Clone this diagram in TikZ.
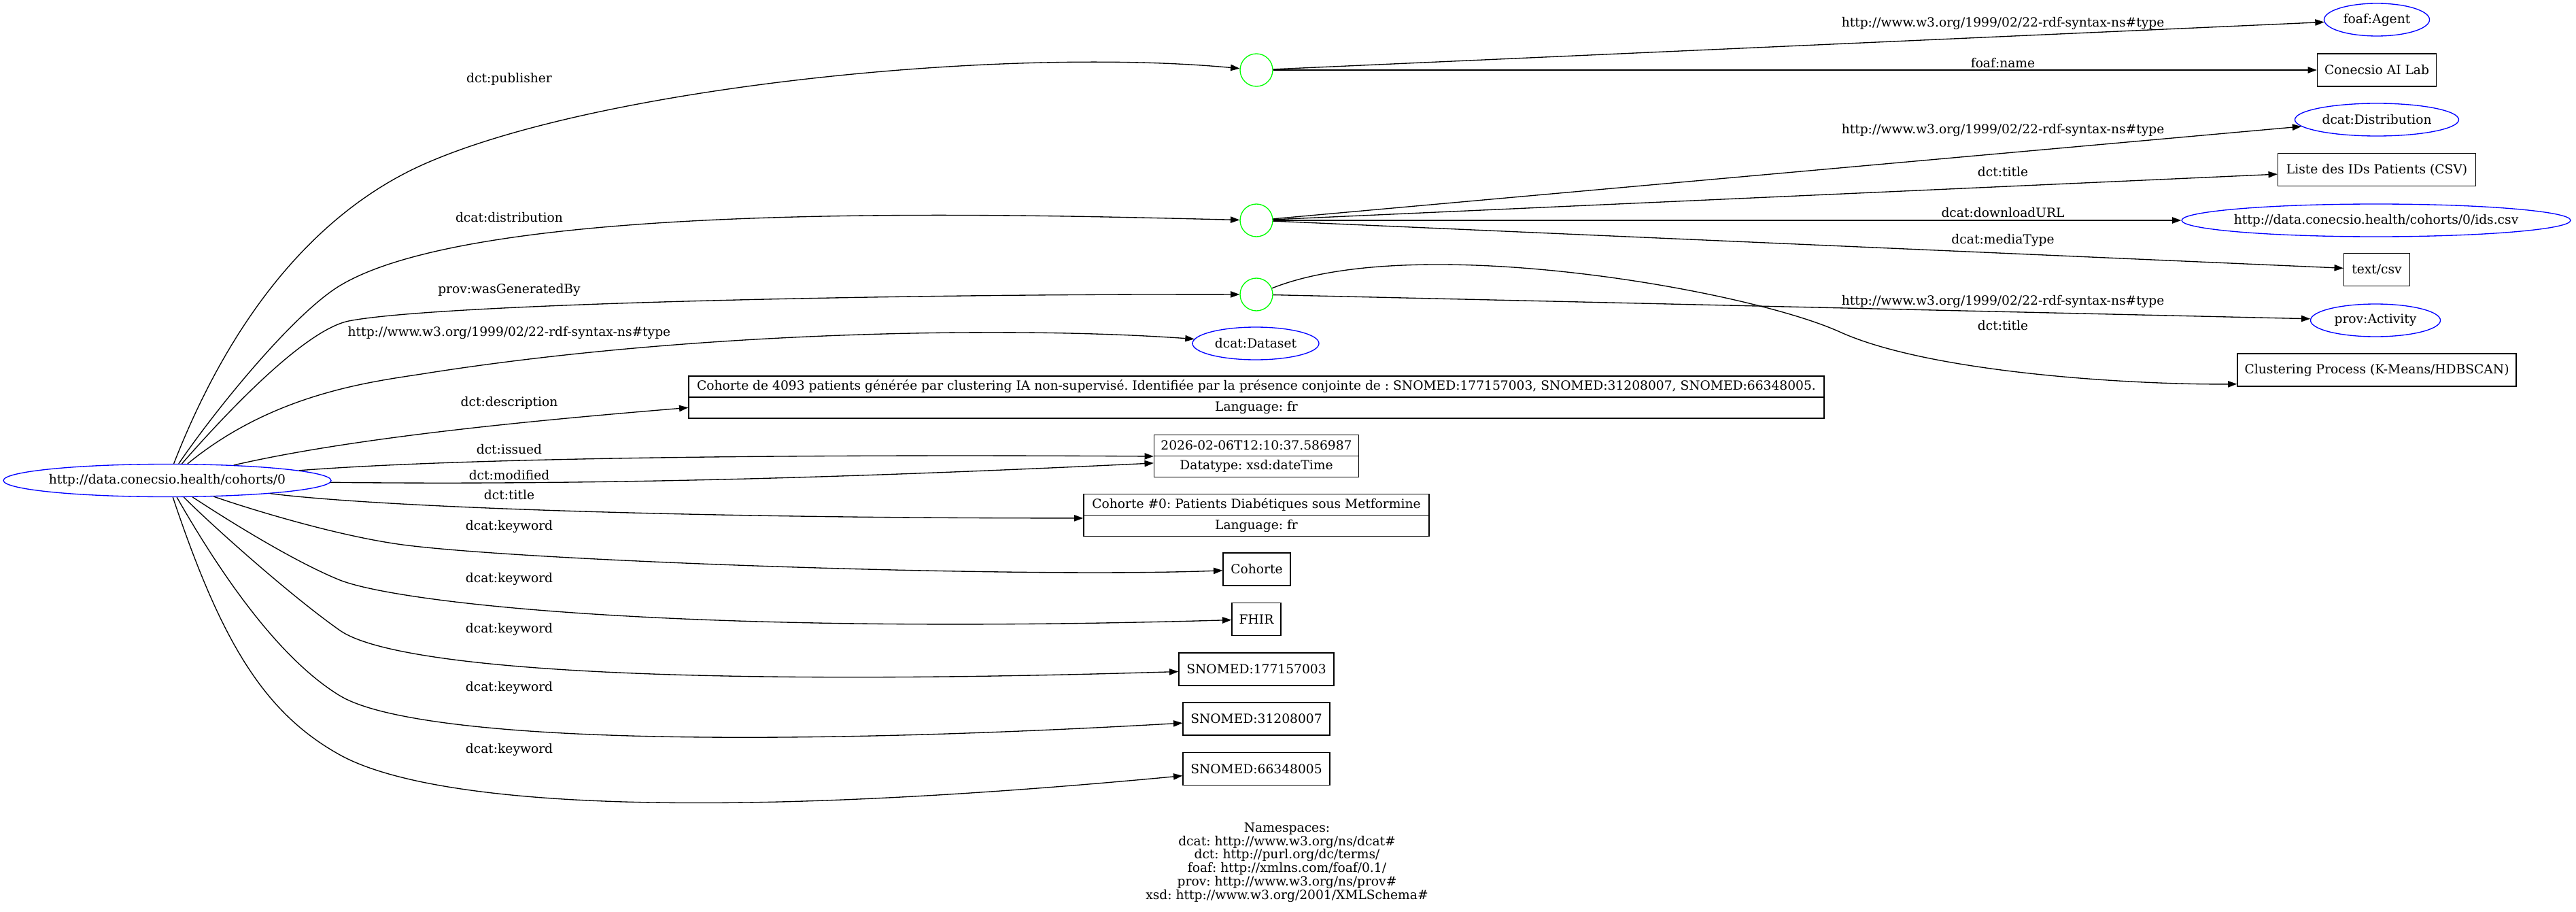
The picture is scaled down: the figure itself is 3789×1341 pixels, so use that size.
\documentclass[tikz,border=0pt]{standalone}
\usepackage{fontspec}
\setmainfont{DejaVu Serif}
\usetikzlibrary{shapes.geometric,arrows.meta,calc}
\frenchspacing
\begin{document}
\begin{tikzpicture}[x=0.75pt,y=-0.75pt,
  every node/.style={font=\fontsize{14pt}{16pt}\selectfont\frenchspacing},
  uri/.style={ellipse,draw=blue,line width=1pt,inner xsep=-10pt,inner ysep=0pt,minimum height=36pt},
  bnode/.style={circle,draw=green,line width=1pt,inner sep=0pt,minimum size=36pt},
  lit/.style={rectangle,draw=black,line width=1pt,inner sep=0pt,minimum height=36pt},
  recrow/.style={rectangle,draw=black,line width=1pt,inner sep=0pt,minimum height=23.25pt},
  elabel/.style={inner sep=0pt},
  edge/.style={draw=black,line width=1pt,-{Triangle[length=10pt,width=7pt]}}
]
\useasboundingbox (0,0) rectangle (3789,1341);

% main subject
\node[uri,minimum width=361.5pt] (main) at (246,706.5) {http://data.conecsio.health/cohorts/0};

% blank nodes
\node[bnode] (b1) at (1848,103) {};
\node[bnode] (b2) at (1848,324) {};
\node[bnode] (b3) at (1848,433) {};

% middle column
\node[uri,minimum width=139.5pt] (dataset) at (1847,505) {dcat:Dataset};
\node[recrow,minimum width=1252.5pt] (desct) at (1848,568.4) {Cohorte de 4093 patients générée par clustering IA non-supervisé. Identifiée par la présence conjointe de : SNOMED:177157003, SNOMED:31208007, SNOMED:66348005.};
\node[recrow,minimum width=1252.5pt] (descb) at (1848,599.4) {Language: fr};
\node[recrow,minimum width=225.75pt] (datet) at (1848,654.8) {2026-02-06T12:10:37.586987};
\node[recrow,minimum width=225.75pt] (dateb) at (1848,685.8) {Datatype: xsd:dateTime};
\node[recrow,minimum width=381pt] (titlet) at (1848,742.2) {Cohorte \#0: Patients Diabétiques sous Metformine};
\node[recrow,minimum width=381pt] (titleb) at (1848,773.2) {Language: fr};
\node[lit,minimum width=74.25pt] (kwa) at (1848.5,837) {Cohorte};
\node[lit,minimum width=54pt] (kwb) at (1848,910.5) {FHIR};
\node[lit,minimum width=171pt] (kwc) at (1848,984) {SNOMED:177157003};
\node[lit,minimum width=162pt] (kwd) at (1848,1057) {SNOMED:31208007};
\node[lit,minimum width=162pt] (kwe) at (1848,1130.5) {SNOMED:66348005};

% right column
\node[uri,minimum width=116.25pt] (agent) at (3496,29) {foaf:Agent};
\node[lit,minimum width=131.25pt] (conecsio) at (3496,103) {Conecsio AI Lab};
\node[uri,minimum width=180.75pt] (dist) at (3496,176) {dcat:Distribution};
\node[lit,minimum width=218.25pt] (liste) at (3496,249.5) {Liste des IDs Patients (CSV)};
\node[uri,minimum width=429pt] (ids) at (3495,324) {http://data.conecsio.health/cohorts/0/ids.csv};
\node[lit,minimum width=72.75pt] (textcsv) at (3496,396.5) {text/csv};
\node[uri,minimum width=143.25pt] (activity) at (3494,471) {prov:Activity};
\node[lit,minimum width=307.5pt] (clust) at (3496,544) {Clustering Process (K-Means/HDBSCAN)};

% edges from main
\draw[edge] (main) .. controls (350,440) and (483,305) .. (620,243) .. controls (875,128) and (1474,68) .. (b1);
\draw[edge] (main) .. controls (318,601) and (432,461) .. (500,420) .. controls (714,291) and (1500,316) .. (b2);
\draw[edge] (main) .. controls (319,623) and (444,486) .. (513,472) .. controls (640,447) and (1300,432) .. (b3);
\draw[edge] (main) .. controls (400,580) and (541,562) .. (620,550) .. controls (1015,487) and (1484,479) .. (dataset);
\draw[edge] (main) .. controls (530,641) and (813,616) .. (descb.west);
\draw[edge] (main) .. controls (700,672) and (1200,668) .. (datet.south west);
\draw[edge] (main) .. controls (900,714) and (1300,700) .. ($(dateb.north west)!0.35!(dateb.south west)$);
\draw[edge] (main) .. controls (550,745) and (1000,762) .. ($(titleb.north west)!0.15!(titleb.south west)$);
\draw[edge] (main) .. controls (366,748) and (501,790) .. (600,802) .. controls (799,826) and (1500,850) .. (kwa);
\draw[edge] (main) .. controls (320,755) and (426,823) .. (500,853) .. controls (584,886) and (1000,935) .. (kwb);
\draw[edge] (main) .. controls (309,770) and (426,875) .. (500,927) .. controls (582,984) and (1000,1010) .. (kwc);
\draw[edge] (main) .. controls (319,834) and (406,966) .. (500,1023) .. controls (594,1080) and (1000,1105) .. (kwd);
\draw[edge] (main) .. controls (324,939) and (386,1047) .. (500,1110) .. controls (614,1173) and (950,1215) .. (kwe);

% edges from blank nodes
\draw[edge] (b1) -- (agent);
\draw[edge] (b1) -- (conecsio);
\draw[edge] (b2) -- (dist);
\draw[edge] (b2) -- (liste);
\draw[edge] (b2) -- (ids);
\draw[edge] (b2) -- (textcsv);
\draw[edge] (b3) -- (activity);
\draw[edge] (b3) .. controls (2080,340) and (2569,426) .. (2706,488) .. controls (2843,550) and (3150,566) .. ($(clust.north west)!0.92!(clust.south west)$);

% edge labels (left)
\node[elabel] (l1) at (749,116) {dct:publisher};
\node[elabel] (l2) at (749,320) {dcat:distribution};
\node[elabel] (l3) at (749,426) {prov:wasGeneratedBy};
\node[elabel] (l4) at (749,489) {http://www.w3.org/1999/02/22-rdf-syntax-ns\#type};
\node[elabel] (l5) at (749,592) {dct:description};
\node[elabel] (l6) at (749,661) {dct:issued};
\node[elabel] (l7) at (749,699) {dct:modified};
\node[elabel] (l8) at (749,728) {dct:title};
\node[elabel] (l9) at (749,774) {dcat:keyword};
\node[elabel] (l10) at (749,851) {dcat:keyword};
\node[elabel] (l11) at (749,925) {dcat:keyword};
\node[elabel] (l12) at (749,1011) {dcat:keyword};
\node[elabel] (l13) at (749,1102) {dcat:keyword};

% edge labels (right)
\node[elabel] (r1) at (2946,34) {http://www.w3.org/1999/02/22-rdf-syntax-ns\#type};
\node[elabel] (r2) at (2946,93) {foaf:name};
\node[elabel] (r3) at (2946,191) {http://www.w3.org/1999/02/22-rdf-syntax-ns\#type};
\node[elabel] (r4) at (2946,253) {dct:title};
\node[elabel] (r5) at (2946,313) {dcat:downloadURL};
\node[elabel] (r6) at (2946,353) {dcat:mediaType};
\node[elabel] (r7) at (2946,443) {http://www.w3.org/1999/02/22-rdf-syntax-ns\#type};
\node[elabel] (r8) at (2946,479) {dct:title};

% namespaces
\node[elabel,align=center,font=\fontsize{14pt}{14.85pt}\selectfont\frenchspacing] (ns) at (1893,1268) {Namespaces:\\dcat: http://www.w3.org/ns/dcat\#\\dct: http://purl.org/dc/terms/\\foaf: http://xmlns.com/foaf/0.1/\\prov: http://www.w3.org/ns/prov\#\\xsd: http://www.w3.org/2001/XMLSchema\#};
\end{tikzpicture}
\end{document}
